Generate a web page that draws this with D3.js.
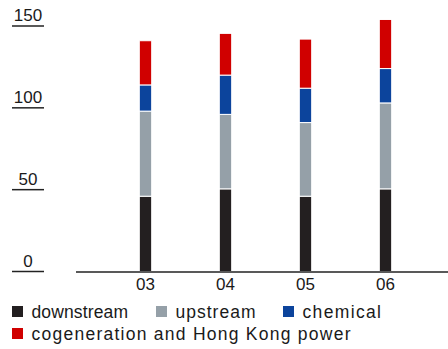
<!DOCTYPE html>
<html><head><meta charset="utf-8">
<script src="https://cdn.jsdelivr.net/npm/d3@7"></script>
<style>body{margin:0;background:#fff}svg{display:block}text{font-family:"Liberation Sans",Arial,sans-serif;fill:#1a1a1a}</style>
</head><body>
<svg id="c" width="448" height="349"></svg>
<script>
const years = ["03","04","05","06"];
const seriesNames = ["downstream","upstream","chemical","cogeneration and Hong Kong power"];
const downstream = [46, 50.5, 46, 50.5];
const upstream = [52, 45.5, 45, 52.5];
const chemical = [16, 24, 21, 21];
const cogeneration = [27, 25.5, 30, 30];
const yTicks = [0, 50, 100, 150];
const colors = ["#231f20", "#95a0a8", "#0c449c", "#d00000"];

const svg = d3.select("#c");
const y = d3.scaleLinear().domain([0,150]).range([271.5, 26]);
const x = d3.scaleBand().domain(years).range([105.5, 425.5]).paddingInner(0.845).paddingOuter(0.4225);

const rows = years.map((yr,i)=>({year:yr, downstream:downstream[i], upstream:upstream[i], chemical:chemical[i], cogeneration:cogeneration[i]}));
const keys = ["downstream","upstream","chemical","cogeneration"];
const stacked = d3.stack().keys(keys)(rows);

// y ticks
const yt = svg.append("g");
yt.selectAll("line").data(yTicks).join("line")
  .attr("x1",12).attr("x2",44).attr("y1",d=>y(d)).attr("y2",d=>y(d))
  .attr("stroke","#222").attr("stroke-width",1.5);
yt.selectAll("text").data(yTicks).join("text")
  .attr("x",28).attr("y",d=>y(d)-5).attr("text-anchor","middle")
  .attr("font-size",17).text(d=>d);

// bars
svg.append("g").selectAll("g").data(stacked).join("g")
  .attr("fill",(d,i)=>colors[i])
  .selectAll("rect").data(d=>d).join("rect")
  .attr("x",d=>x(d.data.year)).attr("width",x.bandwidth())
  .attr("y",d=>y(d[1])).attr("height",d=>y(d[0])-y(d[1]))
  .attr("stroke","#fff").attr("stroke-width",1);

// x axis line
svg.append("line").attr("x1",76).attr("x2",448).attr("y1",272).attr("y2",272)
  .attr("stroke","#222").attr("stroke-width",1.5);
svg.append("g").selectAll("text").data(years).join("text")
  .attr("x",d=>x(d)+x.bandwidth()/2).attr("y",290).attr("text-anchor","middle")
  .attr("font-size",17).text(d=>d);

// legend
const leg = [
  {i:0, x:12, y:306, w:96.5},
  {i:1, x:156, y:306, w:80},
  {i:2, x:283, y:306, w:78.5},
  {i:3, x:12, y:328, w:319}
];
const lg = svg.append("g").selectAll("g").data(leg).join("g");
lg.append("rect").attr("x",d=>d.x).attr("y",d=>d.y).attr("width",11).attr("height",11).attr("fill",d=>colors[d.i]);
lg.append("text").attr("x",d=>d.x+19.5).attr("y",d=>d.y+11.5).attr("font-size",17.5)
  .attr("textLength",d=>d.w).attr("lengthAdjust","spacing")
  .text(d=>seriesNames[d.i]);
</script>
</body></html>
